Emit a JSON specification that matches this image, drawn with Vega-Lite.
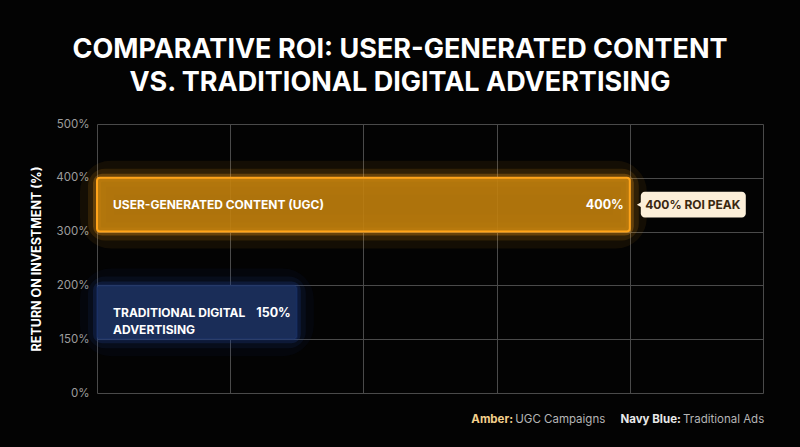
{
  "$schema": "https://vega.github.io/schema/vega-lite/v6.json",
  "autosize": "none",
  "width": 666,
  "height": 269,
  "padding": {"left": 97, "top": 124, "right": 37, "bottom": 54},
  "background": "#030303",
  "title": {
    "text": ["COMPARATIVE ROI: USER-GENERATED CONTENT", "VS. TRADITIONAL DIGITAL ADVERTISING"],
    "font": "Inter",
    "fontSize": 27,
    "fontWeight": 700,
    "color": "#ffffff",
    "lineHeight": 33,
    "anchor": "middle",
    "frame": "group",
    "dx": -30,
    "offset": 21
  },
  "config": {
    "view": {"stroke": null},
    "font": "Inter",
    "axis": {"domain": false, "ticks": false, "gridColor": "#4a4a4a", "gridWidth": 1}
  },
  "datasets": {
    "bars": [
      {"channel": "User-Generated Content (UGC)", "label": "USER-GENERATED CONTENT (UGC)", "roi": 400, "band_low": 300, "band_high": 400},
      {"channel": "Traditional Digital Advertising", "label": ["TRADITIONAL DIGITAL", "ADVERTISING"], "roi": 150, "band_low": 150, "band_high": 200}
    ],
    "notes": [
      {"note": "400% ROI PEAK", "roi": 400, "band_low": 300, "band_high": 400}
    ]
  },
  "data": {"name": "bars"},
  "encoding": {
    "x": {
      "field": "roi", "type": "quantitative",
      "scale": {"domain": [0, 500], "nice": false, "zero": false},
      "axis": {"values": [0, 100, 200, 300, 400, 500], "labels": false, "title": null, "grid": true}
    },
    "y": {
      "field": "band_high", "type": "quantitative",
      "scale": {"domain": [0, 150, 200, 300, 400, 500], "range": [269, 215.2, 161.4, 107.6, 53.8, 0], "nice": false, "zero": false},
      "axis": {
        "values": [0, 150, 200, 300, 400, 500],
        "labelExpr": "datum.value + '%'",
        "labelColor": "#9d9d9d",
        "labelFontSize": 11.5,
        "labelPadding": 8,
        "title": "RETURN ON INVESTMENT (%)",
        "titleColor": "#ffffff",
        "titleFontSize": 12.5,
        "titleFontWeight": 700,
        "titlePadding": 12,
        "grid": true
      }
    },
    "y2": {"field": "band_low"}
  },
  "layer": [
    {
      "mark": {"type": "rect", "fillOpacity": 0, "strokeWidth": 34, "strokeOpacity": 0.07, "cornerRadius": 14},
      "encoding": {
        "x2": {"datum": 0},
        "stroke": {"field": "channel", "type": "nominal", "legend": null,
          "scale": {"domain": ["User-Generated Content (UGC)", "Traditional Digital Advertising"], "range": ["#ffa41a", "#1f3f8c"]}}
      }
    },
    {
      "mark": {"type": "rect", "fillOpacity": 0, "strokeWidth": 18, "strokeOpacity": 0.12, "cornerRadius": 8},
      "encoding": {
        "x2": {"datum": 0},
        "stroke": {"field": "channel", "type": "nominal", "legend": null}
      }
    },
    {
      "mark": {"type": "rect", "fillOpacity": 0, "strokeWidth": 8, "strokeOpacity": 0.25, "cornerRadius": 5},
      "encoding": {
        "x2": {"datum": 0},
        "stroke": {"field": "channel", "type": "nominal", "legend": null}
      }
    },
    {
      "mark": {"type": "rect", "cornerRadius": 3, "strokeWidth": 2},
      "encoding": {
        "x2": {"datum": 0},
        "fill": {"field": "channel", "type": "nominal", "legend": null,
          "scale": {"domain": ["User-Generated Content (UGC)", "Traditional Digital Advertising"], "range": ["#c1800d", "#1a2d58"]}},
        "stroke": {"field": "channel", "type": "nominal", "legend": null},
        "fillOpacity": {"field": "channel", "type": "nominal", "legend": null,
          "scale": {"domain": ["User-Generated Content (UGC)", "Traditional Digital Advertising"], "range": [0.9, 1]}},
        "strokeOpacity": {"field": "channel", "type": "nominal", "legend": null,
          "scale": {"domain": ["User-Generated Content (UGC)", "Traditional Digital Advertising"], "range": [1, 0.25]}}
      }
    },
    {
      "mark": {"type": "text", "align": "left", "baseline": "middle", "dx": 16, "yOffset": -26.4, "fontSize": 12, "fontWeight": 700, "color": "#ffffff", "lineHeight": 17},
      "encoding": {
        "x": {"datum": 0},
        "y": {"field": "band_low", "type": "quantitative"},
        "y2": null,
        "text": {"field": "label"}
      }
    },
    {
      "transform": [{"calculate": "datum.roi + '%'", "as": "roi_label"}],
      "mark": {"type": "text", "align": "right", "baseline": "middle", "dx": -6, "yOffset": -26.4, "fontSize": 12.5, "fontWeight": 700, "color": "#ffffff"},
      "encoding": {
        "y": {"field": "band_low", "type": "quantitative"},
        "y2": null,
        "text": {"field": "roi_label", "type": "nominal"}
      }
    },
    {
      "data": {"name": "notes"},
      "mark": {"type": "rect", "fill": "#fcefd9", "cornerRadius": 4, "xOffset": 11, "x2Offset": 116, "yOffset": 14, "y2Offset": -14},
      "encoding": {
        "x2": {"field": "roi"}
      }
    },
    {
      "data": {"name": "notes"},
      "mark": {"type": "point", "shape": "triangle-left", "filled": true, "fill": "#fcefd9", "opacity": 1, "size": 45, "xOffset": 10, "yOffset": -26.9},
      "encoding": {
        "y": {"field": "band_low", "type": "quantitative"},
        "y2": null
      }
    },
    {
      "data": {"name": "notes"},
      "mark": {"type": "text", "align": "center", "baseline": "middle", "dx": 63, "yOffset": -26.4, "fontSize": 12, "fontWeight": 700, "color": "#3a2810"},
      "encoding": {
        "y": {"field": "band_low", "type": "quantitative"},
        "y2": null,
        "text": {"field": "note"}
      }
    },
    {
      "data": {"name": "notes"},
      "mark": {"type": "text", "align": "left", "baseline": "middle", "fontSize": 11.5, "fontWeight": 700, "color": "#f3d08c", "yOffset": 27},
      "encoding": {"x": {"datum": 281}, "y": {"datum": 0}, "y2": null, "text": {"value": "Amber:"}}
    },
    {
      "data": {"name": "notes"},
      "mark": {"type": "text", "align": "left", "baseline": "middle", "fontSize": 11.5, "fontWeight": 400, "color": "#b5b5b5", "yOffset": 27},
      "encoding": {"x": {"datum": 314}, "y": {"datum": 0}, "y2": null, "text": {"value": "UGC Campaigns"}}
    },
    {
      "data": {"name": "notes"},
      "mark": {"type": "text", "align": "left", "baseline": "middle", "fontSize": 11.5, "fontWeight": 700, "color": "#e8e8e8", "yOffset": 27},
      "encoding": {"x": {"datum": 393}, "y": {"datum": 0}, "y2": null, "text": {"value": "Navy Blue:"}}
    },
    {
      "data": {"name": "notes"},
      "mark": {"type": "text", "align": "left", "baseline": "middle", "fontSize": 11.5, "fontWeight": 400, "color": "#b5b5b5", "yOffset": 27},
      "encoding": {"x": {"datum": 440}, "y": {"datum": 0}, "y2": null, "text": {"value": "Traditional Ads"}}
    }
  ]
}
